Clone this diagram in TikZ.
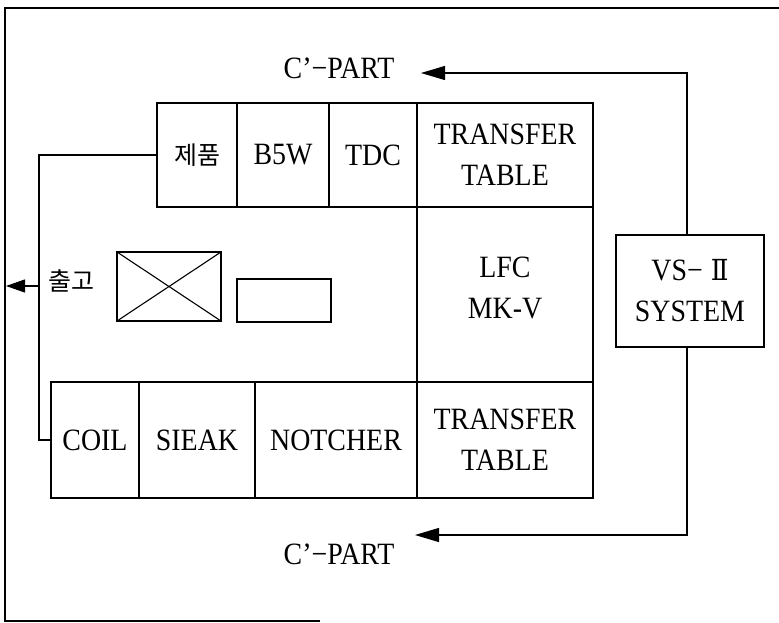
\documentclass[tikz,border=0pt]{standalone}
\usepackage{fontspec}
\setmainfont[FakeStretch=0.9]{Liberation Serif}
\newfontfamily\cjk{Noto Sans CJK KR}
\newfontfamily\romnum[FakeStretch=0.9]{DejaVu Serif}
\usetikzlibrary{arrows.meta}
\begin{document}
\begin{tikzpicture}[x=1pt,y=-1pt,
  line width=1.1pt,
  cellbox/.style={draw, inner sep=0pt, outer sep=0pt, align=center,
    font=\fontsize{31}{41}\selectfont},
  lbl/.style={inner sep=0pt, font=\fontsize{31}{41}\selectfont},
  kor/.style={inner sep=0pt, font=\cjk\fontsize{25}{30}\selectfont},
  bigarrow/.style={-{Triangle[length=24pt,width=14pt]}},
  smallarrow/.style={-{Triangle[length=19pt,width=13pt]}}]
\useasboundingbox (0,0) rectangle (779,623);
% outer frame
\draw (779,8) -- (5,8) -- (5,621) -- (320,621);
% top row
\node[cellbox, minimum width=80pt, minimum height=104pt] (p) at (197,155) {\cjk\fontsize{25}{30}\selectfont 제품};
\node[cellbox, minimum width=92pt, minimum height=104pt] (b5w) at (283,155) {B5W};
\node[cellbox, minimum width=88pt, minimum height=104pt] (tdc) at (373,155) {TDC};
\node[cellbox, minimum width=176pt, minimum height=104pt] (tt1) at (505,155) {TRANSFER\\TABLE};
% middle
\node[draw, inner sep=0pt, outer sep=0pt, minimum width=176pt, minimum height=175pt] (lfc) at (505,294.5) {};
\node[lbl, align=center] (lfctext) at (505,288) {LFC\\MK-V};
% bottom row
\node[cellbox, minimum width=88pt, minimum height=116pt] (coil) at (95,440) {COIL};
\node[cellbox, minimum width=116pt, minimum height=116pt] (sieak) at (197,440) {SIEAK};
\node[cellbox, minimum width=162pt, minimum height=116pt] (notcher) at (336,440) {NOTCHER};
\node[cellbox, minimum width=176pt, minimum height=116pt] (tt2) at (505,440) {TRANSFER\\TABLE};
% inner boxes
\node[draw, inner sep=0pt, outer sep=0pt, minimum width=104pt, minimum height=69pt] (xb) at (169,286.5) {};
\draw (xb.north west) -- (xb.south east) (xb.north east) -- (xb.south west);
\node[draw, inner sep=0pt, outer sep=0pt, minimum width=94pt, minimum height=43pt] (sr) at (284,300.5) {};
% VS-II system
\node[cellbox, minimum width=148pt, minimum height=112pt] (vs) at (690,291) {VS−\hspace{8pt}{\romnum\fontsize{29}{41}\selectfont Ⅱ}\\SYSTEM};
% C'-PART labels
\node[lbl] (cpt) at (339,68) {C’−PART};
\node[lbl] (cpb) at (339,554) {C’−PART};
\coordinate (tiptop) at (421,73);
\coordinate (tipbot) at (415,535);
\coordinate (rx) at (687,0);
\draw[bigarrow] (vs.north -| rx) -- (rx |- tiptop) -- (tiptop);
\draw[bigarrow] (vs.south -| rx) -- (rx |- tipbot) -- (tipbot);
% left connector and 출고
\coordinate (lx) at (39,0);
\draw (p.west) -- (p.west -| lx) -- (coil.west -| lx) -- (coil.west);
\coordinate (outsrc) at (39,286);
\coordinate (outtip) at (6,286);
\draw[smallarrow] (outsrc) -- (outtip);
\node[kor] (chulgo) at (71,281) {출고};
\end{tikzpicture}
\end{document}
